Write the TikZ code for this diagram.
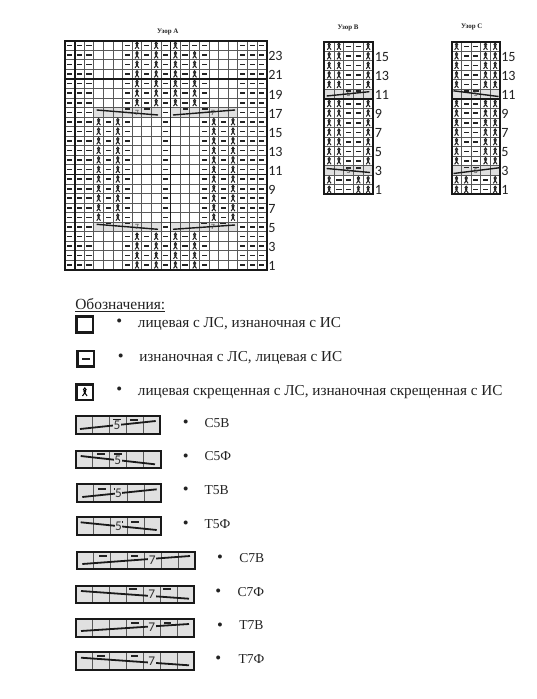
\documentclass[tikz,border=0pt]{standalone}
\usepackage{fontspec}
\setmainfont{Liberation Serif}
\newfontfamily\numfont{Carlito}
\usetikzlibrary{calc}
\definecolor{inkgray}{HTML}{222222}
\definecolor{cablegray}{HTML}{E0E0E0}
\tikzset{
  std/.pic={\fill (-2.6,-.8) rectangle (2.6,.8);},
  sto/.pic={},
  stx/.pic={
    \draw[line width=.8pt] (0,-2) ellipse (1.1 and 1.4);
    \draw[line width=.75pt] (-1.9,3.3) -- (.9,-.6) (1.9,3.3) -- (-.9,-.6);
  },
  keydash/.pic={\fill (-3.8,-1) rectangle (3.8,1);}
}
% one row of stitches: x, y, cell w, cell h, pattern
\newcommand{\stitchrow}[5]{%
  \foreach \s [count=\c from 0] in #5 {
    \pic[inkgray] at ({#1+(\c+.5)*#3},{(#2)+.5*#4}) {st\s};
  }}
% thin lines of a grid: x, y, w, h, cols, rows
\newcommand{\cellgrid}[6]{%
  \foreach \c in {1,...,#5} {\draw[gridline] ({#1+\c*#3},#2) -- ({#1+\c*#3},{#2+#6*#4});}
  \foreach \r in {1,...,#6} {\draw[gridline] (#1,{#2+\r*#4}) -- ({#1+#5*#3},{#2+\r*#4});}
}
% slanted bar with its number: name, x1, y1, x2, y2, xnum, ynum, number
\newcommand{\cableline}[8]{%
  \draw[cable] (#2,#3) -- (#4,#5);
  \node[cablenum] (#1) at (#6,#7) {#8};
}
% legend box: x1, y1, x2, y2, cols
\newcommand{\keybox}[5]{%
  \fill[cablegray] (#1,#2) rectangle (#3,#4);
  \foreach \c in {1,...,#5} {\draw[gridline] ({#1+\c*(#3-#1)/#5},#2) -- ({#1+\c*(#3-#1)/#5},#4);}
  \draw[outline] (#1,#2) rectangle (#3,#4);
}
\def\patTop{d,d,d,o,o,o,d,x,d,x,d,x,d,d,d,o,o,o,d,d,d}
\def\patMid{d,d,d,o,o,o,d,x,d,x,d,x,d,x,d,o,o,o,d,d,d}
\def\patWide{d,d,d,x,d,x,d,o,o,o,d,o,o,o,d,x,d,x,d,d,d}
\def\patB{x,x,d,d,x}
\def\patBlow{x,d,d,x,x}
\def\patC{x,d,d,x,x}
\def\patClow{x,x,d,d,x}

\begin{document}
\begin{tikzpicture}[
    x=.75pt, y=-.75pt,
    gridline/.style={draw=black!65, line width=.6pt},
    heavy/.style={draw=black!90, line width=1.05pt},
    outline/.style={draw=black!90, line width=1.6pt},
    cable/.style={draw=black!90, line width=1.05pt},
    cablenum/.style={font=\numfont\fontsize{6}{6}\selectfont, text=black!75, inner sep=.3pt},
    keynum/.style={font=\numfont\fontsize{10}{10}\selectfont, text=black!80, inner sep=.4pt, fill=cablegray},
    rownum/.style={font=\numfont\fontsize{10.6}{12}\selectfont, text=inkgray, anchor=west, inner sep=0pt},
    chartname/.style={font=\bfseries\fontsize{5.2}{6}\selectfont, text=inkgray, inner sep=0pt},
    legend/.style={font=\fontsize{11.4}{13}\selectfont, text=inkgray, anchor=west, inner sep=0pt, yshift=-1.2pt},
    cablename/.style={font=\fontsize{10.2}{12}\selectfont, text=inkgray, anchor=west, inner sep=0pt},
    dotmark/.style={font=\fontsize{12.5}{13}\selectfont, text=inkgray, inner sep=0pt, yshift=-1.6pt}
]
\useasboundingbox (0,0) rectangle (536,699);
\fill[white] (0,0) rectangle (536,699);

% --- Chart A ---
\node[chartname] (titleA) at (167.7,32.3) {Узор А};
\fill[cablegray] (93.8,107.5) rectangle (161,117);
\fill[cablegray] (170.6,107.5) rectangle (238,117);
\fill[cablegray] (93.8,222) rectangle (161,231.5);
\fill[cablegray] (170.6,222) rectangle (238,231.5);
\cellgrid{65}{40.7}{9.6}{9.55}{21}{24}
\stitchrow{65}{40.7}{9.6}{9.55}{\patTop}
\foreach \i in {1,...,6,20,21,22,23} {\stitchrow{65}{40.7+\i*9.55}{9.6}{9.55}{\patMid}}
\foreach \i in {8,...,18} {\stitchrow{65}{40.7+\i*9.55}{9.6}{9.55}{\patWide}}
\foreach \i in {7,19} {
  \foreach \c in {0,1,2,10,18,19,20} {\pic[inkgray] at ({65+(\c+.5)*9.6},{40.7+(\i+.5)*9.55}) {std};}
}
\draw[heavy] (75,40.7) -- (75,270);
\draw[heavy] (170.6,40.7) -- (170.6,270);
\draw[heavy] (65,79.2) -- (266.6,79.2);
\draw[heavy] (65,174.7) -- (266.6,174.7);
\draw[outline] (65,40.7) rectangle (266.6,270);
\foreach \x in {127.7,146.9} {\pic[inkgray] at (\x,109) {std};}
\foreach \x in {185.7,204.9} {\pic[inkgray] at (\x,109) {std};}
\foreach \x in {108.5,127.7} {\pic[inkgray] at (\x,223.5) {std};}
\foreach \x in {204,223} {\pic[inkgray] at (\x,223.5) {std};}
\cableline{sevenA}{96.7}{110}{158}{115}{137}{112.5}{7}
\cableline{sevenB}{173}{115}{235}{110}{213}{112.5}{7}
\cableline{sevenC}{96.7}{224.3}{158}{229.3}{137}{227}{7}
\cableline{sevenD}{173}{229.3}{235}{225}{213}{227}{7}
\foreach \n in {1,3,...,23} {
  \node[rownum] (a\n) at (268,{40.7+(24-\n+.5)*9.55+1.2}) {\n};
}

% --- Chart B ---
\node[chartname] (titleB) at (348,28.3) {Узор В};
\fill[cablegray] (324.3,89.4) rectangle (373,98.9);
\fill[cablegray] (324.3,165.7) rectangle (373,175.3);
\cellgrid{324.3}{41.7}{9.74}{9.54}{5}{16}
\foreach \i in {0,...,4,6,7,...,12} {\stitchrow{324.3}{41.7+\i*9.54}{9.74}{9.54}{\patB}}
\foreach \i in {14,15} {\stitchrow{324.3}{41.7+\i*9.54}{9.74}{9.54}{\patBlow}}
\foreach \x in {348.6,358.3} {\pic[inkgray] at (\x,91) {std};}
\foreach \x in {348.6,358.3} {\pic[inkgray] at (\x,168) {std};}
\cableline{fiveA}{326.7}{96}{369.3}{91.7}{348.6}{94}{5}
\cableline{fiveB}{326.7}{168.5}{370}{172.5}{348.6}{170.5}{5}
\draw[heavy] (324.3,98.9) -- (373,98.9);
\draw[outline] (324.3,41.7) rectangle (373,194.3);
\foreach \n in {1,3,...,15} {
  \node[rownum] (b\n) at (374.5,{41.7+(16-\n+.5)*9.54+.6}) {\n};
}

% --- Chart C ---
\node[chartname] (titleC) at (471.7,26.7) {Узор С};
\fill[cablegray] (451.7,89.4) rectangle (500,98.9);
\fill[cablegray] (451.7,165.7) rectangle (500,175.3);
\cellgrid{451.7}{41.7}{9.66}{9.54}{5}{16}
\foreach \i in {0,...,4,6,7,...,12} {\stitchrow{451.7}{41.7+\i*9.54}{9.66}{9.54}{\patC}}
\foreach \i in {14,15} {\stitchrow{451.7}{41.7+\i*9.54}{9.66}{9.54}{\patClow}}
\foreach \x in {466.2,475.9} {\pic[inkgray] at (\x,91) {std};}
\foreach \x in {466.2,475.9} {\pic[inkgray] at (\x,167.5) {std};}
\cableline{fiveC}{453.5}{90.8}{498.5}{96.5}{475.9}{94}{5}
\cableline{fiveD}{453.5}{173.5}{499}{167.8}{475.9}{170.5}{5}
\draw[heavy] (451.7,98.9) -- (500,98.9);
\draw[outline] (451.7,41.7) rectangle (500,194.3);
\foreach \n in {1,3,...,15} {
  \node[rownum] (c\n) at (501,{41.7+(16-\n+.5)*9.54+.6}) {\n};
}

% --- Legend: plain symbols ---
\node[legend, anchor=south west, font=\fontsize{11.6}{13}\selectfont] (heading) at (75,311) {\underline{Обозначения:}};
\draw[outline, line width=1.9pt] (76.5,316.5) rectangle (93,332.5);
\draw[outline, line width=1.7pt] (77.5,351) rectangle (94,366.5);
\pic[inkgray, scale=1.5] at (85.7,358.8) {std};
\draw[outline, line width=1.7pt] (76.5,384.5) rectangle (93,400);
\pic[black, scale=1.2] at (84.8,392) {stx};
\node[dotmark] (dotA) at (119.3,321) {•};
\node[dotmark] (dotB) at (120.7,355.5) {•};
\node[dotmark] (dotC) at (119.3,389) {•};
\node[legend] (textA) at (137.7,322) {лицевая с ЛС, изнаночная с ИС};
\node[legend] (textB) at (139,356) {изнаночная с ЛС, лицевая с ИС};
\node[legend] (textC) at (137.7,390) {лицевая скрещенная с ЛС, изнаночная скрещенная с ИС};

% --- Legend: five stitch cables ---
\keybox{75.7}{416}{160}{434}{5}
\keybox{75.7}{450.7}{160.7}{468.3}{5}
\keybox{76.7}{484.3}{161}{502.3}{5}
\keybox{76.7}{517}{161}{535}{5}
\foreach \x in {117,133.7} {\pic[inkgray] at (\x,420) {keydash};}
\foreach \x in {101,117.7} {\pic[inkgray] at (\x,454.3) {keydash};}
\foreach \x in {102,118} {\pic[inkgray] at (\x,488.7) {keydash};}
\foreach \x in {119,135} {\pic[inkgray] at (\x,521.7) {keydash};}
\draw[cable, line width=1.35pt] (80,429) -- (155.7,421);
\draw[cable, line width=1.35pt] (80.7,456) -- (155,464.3);
\draw[cable, line width=1.35pt] (82.3,497) -- (156.7,489.3);
\draw[cable, line width=1.35pt] (80.7,522.3) -- (156.7,530);
\node[keynum] (keyA) at (117,425) {5};
\node[keynum] (keyB) at (117.7,460) {5};
\node[keynum] (keyC) at (118.5,493) {5};
\node[keynum] (keyD) at (118.5,526) {5};

% --- Legend: seven stitch cables ---
\keybox{77}{551.7}{195}{569}{7}
\keybox{76}{585.7}{194}{603.3}{7}
\keybox{76}{619}{194}{636.7}{7}
\keybox{76}{652.3}{194}{670}{7}
\foreach \x in {102.7,134.3} {\pic[inkgray] at (\x,555.7) {keydash};}
\foreach \x in {132.7,166.7} {\pic[inkgray] at (\x,589.3) {keydash};}
\foreach \x in {135,167.3} {\pic[inkgray] at (\x,622.7) {keydash};}
\foreach \x in {101,134.3} {\pic[inkgray] at (\x,656) {keydash};}
\draw[cable, line width=1.35pt] (82.3,564) -- (190,556);
\draw[cable, line width=1.35pt] (81,591) -- (189,598.7);
\draw[cable, line width=1.35pt] (81,631) -- (189,624);
\draw[cable, line width=1.35pt] (81,657.7) -- (189,665.3);
\node[keynum] (keyE) at (152.3,560) {7};
\node[keynum] (keyF) at (151.7,594) {7};
\node[keynum] (keyG) at (151.7,627.5) {7};
\node[keynum] (keyH) at (151.7,661) {7};

% --- Legend: cable names ---
\foreach \y/\lab [count=\k] in {422.7/С5В,456.5/С5Ф,490/Т5В,524/Т5Ф} {
  \node[dotmark] (dotD\k) at (185.7,{\y-1}) {•};
  \node[cablename] (nameD\k) at (204.3,\y) {\lab};
}
\node[dotmark] (dotE1) at (220,557) {•};
\node[cablename] (nameE1) at (239,558.5) {С7В};
\node[dotmark] (dotE2) at (218.3,591) {•};
\node[cablename] (nameE2) at (237.3,592) {С7Ф};
\node[dotmark] (dotE3) at (220,625) {•};
\node[cablename] (nameE3) at (239,625.5) {Т7В};
\node[dotmark] (dotE4) at (218.3,658) {•};
\node[cablename] (nameE4) at (238.3,659) {Т7Ф};
\end{tikzpicture}
\end{document}
